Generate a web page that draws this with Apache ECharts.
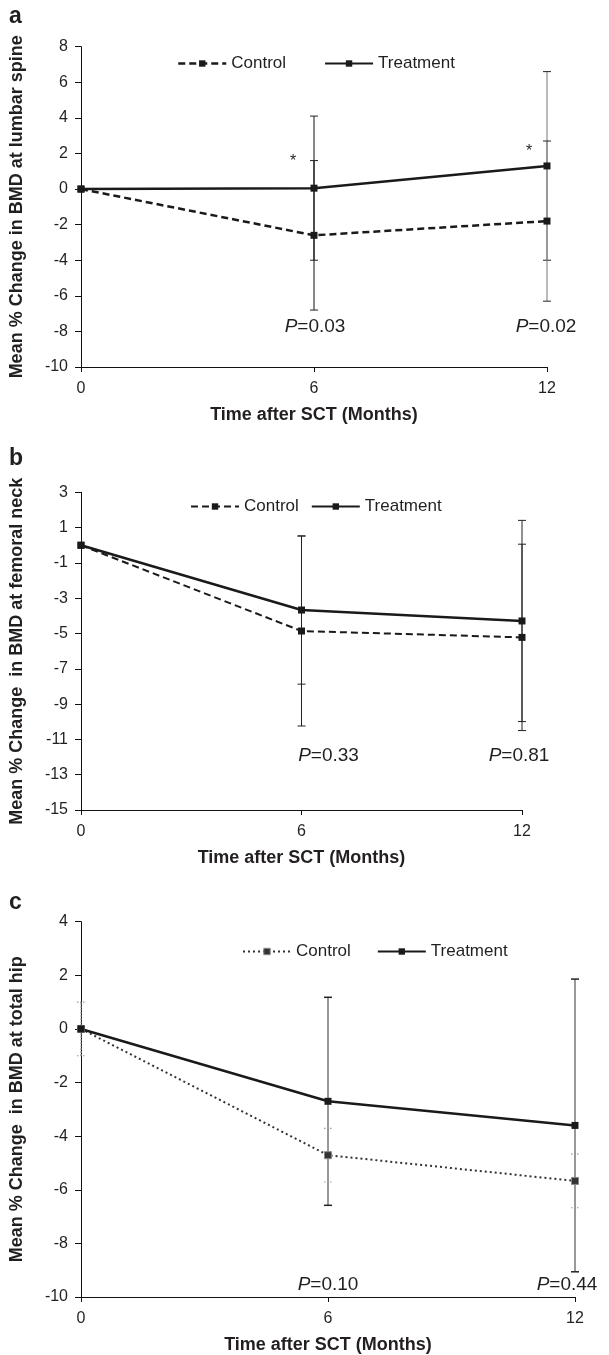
<!DOCTYPE html>
<html>
<head>
<meta charset="utf-8">
<script src="https://cdn.jsdelivr.net/npm/echarts@6/dist/echarts.min.js"></script>
<style>
html,body{margin:0;padding:0;background:#fff;}
#chart{width:609px;height:1355px;}
</style>
</head>
<body>
<div id="chart"></div>
<script>
// ---- data ----
const months = [0, 6, 12];

// Panel a: lumbar spine
const ctrlA = [0, -2.6, -1.8];
const ctrlSdA = [0, 4.2, 4.5];
const trtA = [0, 0.05, 1.3];
const trtSdA = [0, 4.05, 5.3];
const pA = [0.03, 0.02];

// Panel b: femoral neck
const ctrlB = [0, -4.86, -5.22];
const ctrlSdB = [0, 5.38, 5.28];
const trtB = [0, -3.67, -4.29];
const trtSdB = [0, 4.2, 5.7];
const pB = [0.33, 0.81];
const yTicksB = [-15, -13, -11, -9, -7, -5, -3, -1, 1, 3];

// Panel c: total hip
const ctrlC = [0, -4.71, -5.67];
const ctrlSdC = [1.0, 1.0, 1.0];
const trtC = [0, -2.7, -3.6];
const trtSdC = [0, 3.88, 5.46];
const pC = [0.10, 0.44];

const pMonths = [6, 12];

// ---- layout / style ----
const FONT = '"Liberation Sans", Arial, Helvetica, sans-serif';
const TXT = '#231f20';

const chart = echarts.init(document.getElementById('chart'), null, {renderer: 'canvas'});

function errSeries(g, mean, sd, colors, dash, widths) {
  const data = [];
  months.forEach((m, i) => { if (sd[i] > 0) data.push([m, mean[i] - sd[i], mean[i] + sd[i], i]); });
  return {
    type: 'custom', xAxisIndex: g, yAxisIndex: g, silent: true, z: 1,
    data: data,
    renderItem: function (params, api) {
      const x = api.value(0), lo = api.value(1), hi = api.value(2), idx = api.value(3);
      const a = api.coord([x, lo]), b = api.coord([x, hi]);
      const w = 4;
      const col = colors[idx];
      const st = {stroke: col, lineWidth: widths[0], lineDash: dash || null, fill: null};
      const cst = {stroke: dash ? col : '#222', lineWidth: widths[1], lineDash: dash || null, fill: null};
      return {type: 'group', children: [
        {type: 'line', shape: {x1: a[0], y1: a[1], x2: b[0], y2: b[1]}, style: st},
        {type: 'line', shape: {x1: a[0] - w, y1: a[1], x2: a[0] + w, y2: a[1]}, style: cst},
        {type: 'line', shape: {x1: b[0] - w, y1: b[1], x2: b[0] + w, y2: b[1]}, style: cst}
      ]};
    }
  };
}

function lineSeries(g, name, vals, lineType, width, color, sym, border) {
  return {
    type: 'line', name: name, xAxisIndex: g, yAxisIndex: g, z: 3,
    data: months.map((m, i) => [m, vals[i]]),
    symbol: 'rect', symbolSize: sym || 7,
    lineStyle: {color: color, width: width, type: lineType},
    itemStyle: {color: color, borderColor: border || color, borderWidth: border ? 1 : 0},
    emphasis: {disabled: true}
  };
}

function pSeries(g, pv, yLevel, offsets) {
  return {
    type: 'scatter', xAxisIndex: g, yAxisIndex: g, symbolSize: 0, silent: true, z: 5,
    itemStyle: {color: TXT, opacity: 1},
    data: pMonths.map((m, i) => ({value: [m, yLevel], label: {offset: offsets[i]}, p: pv[i]})),
    label: {
      show: true, position: 'inside', color: TXT, textBorderWidth: 0, opacity: 1,
      formatter: function (p) { return '{i|P}{n|=' + p.data.p.toFixed(2) + '}'; },
      rich: {
        i: {fontFamily: FONT, fontSize: 19, fontStyle: 'italic', color: TXT, textBorderWidth: 0},
        n: {fontFamily: FONT, fontSize: 19, color: TXT, textBorderWidth: 0}
      }
    }
  };
}

function xAxis(g) {
  return {
    type: 'value', gridIndex: g, min: 0, max: 12, interval: 6,
    name: 'Time after SCT (Months)', nameLocation: 'middle', nameGap: 39,
    nameTextStyle: {fontFamily: FONT, fontSize: 18, fontWeight: 'bold', color: TXT},
    axisLine: {onZero: false, lineStyle: {color: '#111', width: 1}},
    axisTick: {show: true, length: 5, lineStyle: {color: '#111'}},
    axisLabel: {fontFamily: FONT, fontSize: 16, color: TXT, margin: 14},
    splitLine: {show: false}
  };
}

function yAxis(g, name, min, max, interval, custom) {
  const ax = {
    type: 'value', gridIndex: g, min: min, max: max,
    name: name, nameLocation: 'middle', nameGap: 55,
    nameTextStyle: {fontFamily: FONT, fontSize: 18, fontWeight: 'bold', color: TXT},
    axisLine: {show: true, onZero: false, lineStyle: {color: '#111', width: 1}},
    axisTick: {show: true, length: 6, lineStyle: {color: '#111'}},
    axisLabel: {fontFamily: FONT, fontSize: 16, color: TXT, margin: 13},
    splitLine: {show: false}
  };
  if (custom) {
    ax.axisTick.customValues = custom;
    ax.axisLabel.customValues = custom;
  } else {
    ax.interval = interval;
  }
  return ax;
}

function legend(left, top, gap, ctrlStyle, ctrlItem) {
  return {
    left: left, top: top, padding: 0, itemGap: gap, itemWidth: 48, itemHeight: 8,
    selectedMode: false,
    textStyle: {fontFamily: FONT, fontSize: 17, color: TXT},
    data: [
      {name: 'Control', lineStyle: ctrlStyle, itemStyle: ctrlItem},
      {name: 'Treatment'}
    ]
  };
}

const option = {
  animation: false,
  backgroundColor: '#fff',
  grid: [
    {left: 80, top: 46.7, width: 467, height: 320.3},
    {left: 80, top: 492.3, width: 442, height: 317.7},
    {left: 80, top: 921.7, width: 495, height: 375.3}
  ],
  xAxis: [xAxis(0), xAxis(1), xAxis(2)],
  yAxis: [
    yAxis(0, 'Mean % Change in BMD at lumbar spine', -10, 8, 2),
    yAxis(1, 'Mean % Change  in BMD at femoral neck', -15, 3, null, yTicksB),
    yAxis(2, 'Mean % Change  in BMD at total hip', -10, 4, 2)
  ],
  legend: [
    legend(177, 55, 38, {type: [7, 4], width: 2.5, color: '#1a1a1a'}, {color: '#1a1a1a'}),
    legend(190, 498, 12, {type: [7, 4], width: 2, color: '#1a1a1a'}, {color: '#1a1a1a'}),
    legend(242, 943, 26, {type: [2, 3], width: 2, color: '#333'}, {color: '#333', borderColor: '#888', borderWidth: 1})
  ],
  graphic: [
    {type: 'text', left: 9, top: 5, style: {text: 'a', font: 'bold 23px ' + FONT, fill: TXT}},
    {type: 'text', left: 9, top: 447, style: {text: 'b', font: 'bold 23px ' + FONT, fill: TXT}},
    {type: 'text', left: 9, top: 891, style: {text: 'c', font: 'bold 23px ' + FONT, fill: TXT}}
  ],
  series: [
    // panel a
    errSeries(0, trtA, trtSdA, ['#111', '#111', '#777'], null, [1, 1]),
    errSeries(0, ctrlA, ctrlSdA, ['#111', '#111', '#777'], null, [1, 1]),
    lineSeries(0, 'Control', ctrlA, [7, 4], 2.5, '#1a1a1a'),
    lineSeries(0, 'Treatment', trtA, 'solid', 2.5, '#1a1a1a'),
    pSeries(0, pA, -7.72, [[1, 0], [-1, 0]]),
    {
      type: 'scatter', xAxisIndex: 0, yAxisIndex: 0, symbolSize: 0, silent: true, z: 5,
      itemStyle: {color: TXT, opacity: 1},
      data: [{value: [6, 1.7], label: {offset: [-21, 3]}}, {value: [12, 2.25], label: {offset: [-18, 3]}}],
      label: {show: true, position: 'inside', formatter: '*', fontFamily: FONT, fontSize: 16, color: TXT, textBorderWidth: 0, opacity: 1}
    },
    // panel b
    errSeries(1, trtB, trtSdB, ['#222', '#222', '#222'], null, [1, 1]),
    errSeries(1, ctrlB, ctrlSdB, ['#222', '#222', '#222'], null, [1, 1]),
    lineSeries(1, 'Control', ctrlB, [7, 4], 2, '#1a1a1a'),
    lineSeries(1, 'Treatment', trtB, 'solid', 2.5, '#1a1a1a'),
    pSeries(1, pB, -11.92, [[27, 0], [-3, 0]]),
    // panel c
    errSeries(2, trtC, trtSdC, ['#777', '#777', '#777'], null, [1.5, 1.5]),
    errSeries(2, ctrlC, ctrlSdC, ['#999', '#999', '#999'], [1.5, 1.5], [1.5, 1.2]),
    lineSeries(2, 'Control', ctrlC, [2, 3], 2, '#333', 7, '#888'),
    lineSeries(2, 'Treatment', trtC, 'solid', 2.5, '#1a1a1a'),
    pSeries(2, pC, -9.56, [[0, 0], [-8, 0]])
  ]
};
chart.setOption(option);
</script>
</body>
</html>
